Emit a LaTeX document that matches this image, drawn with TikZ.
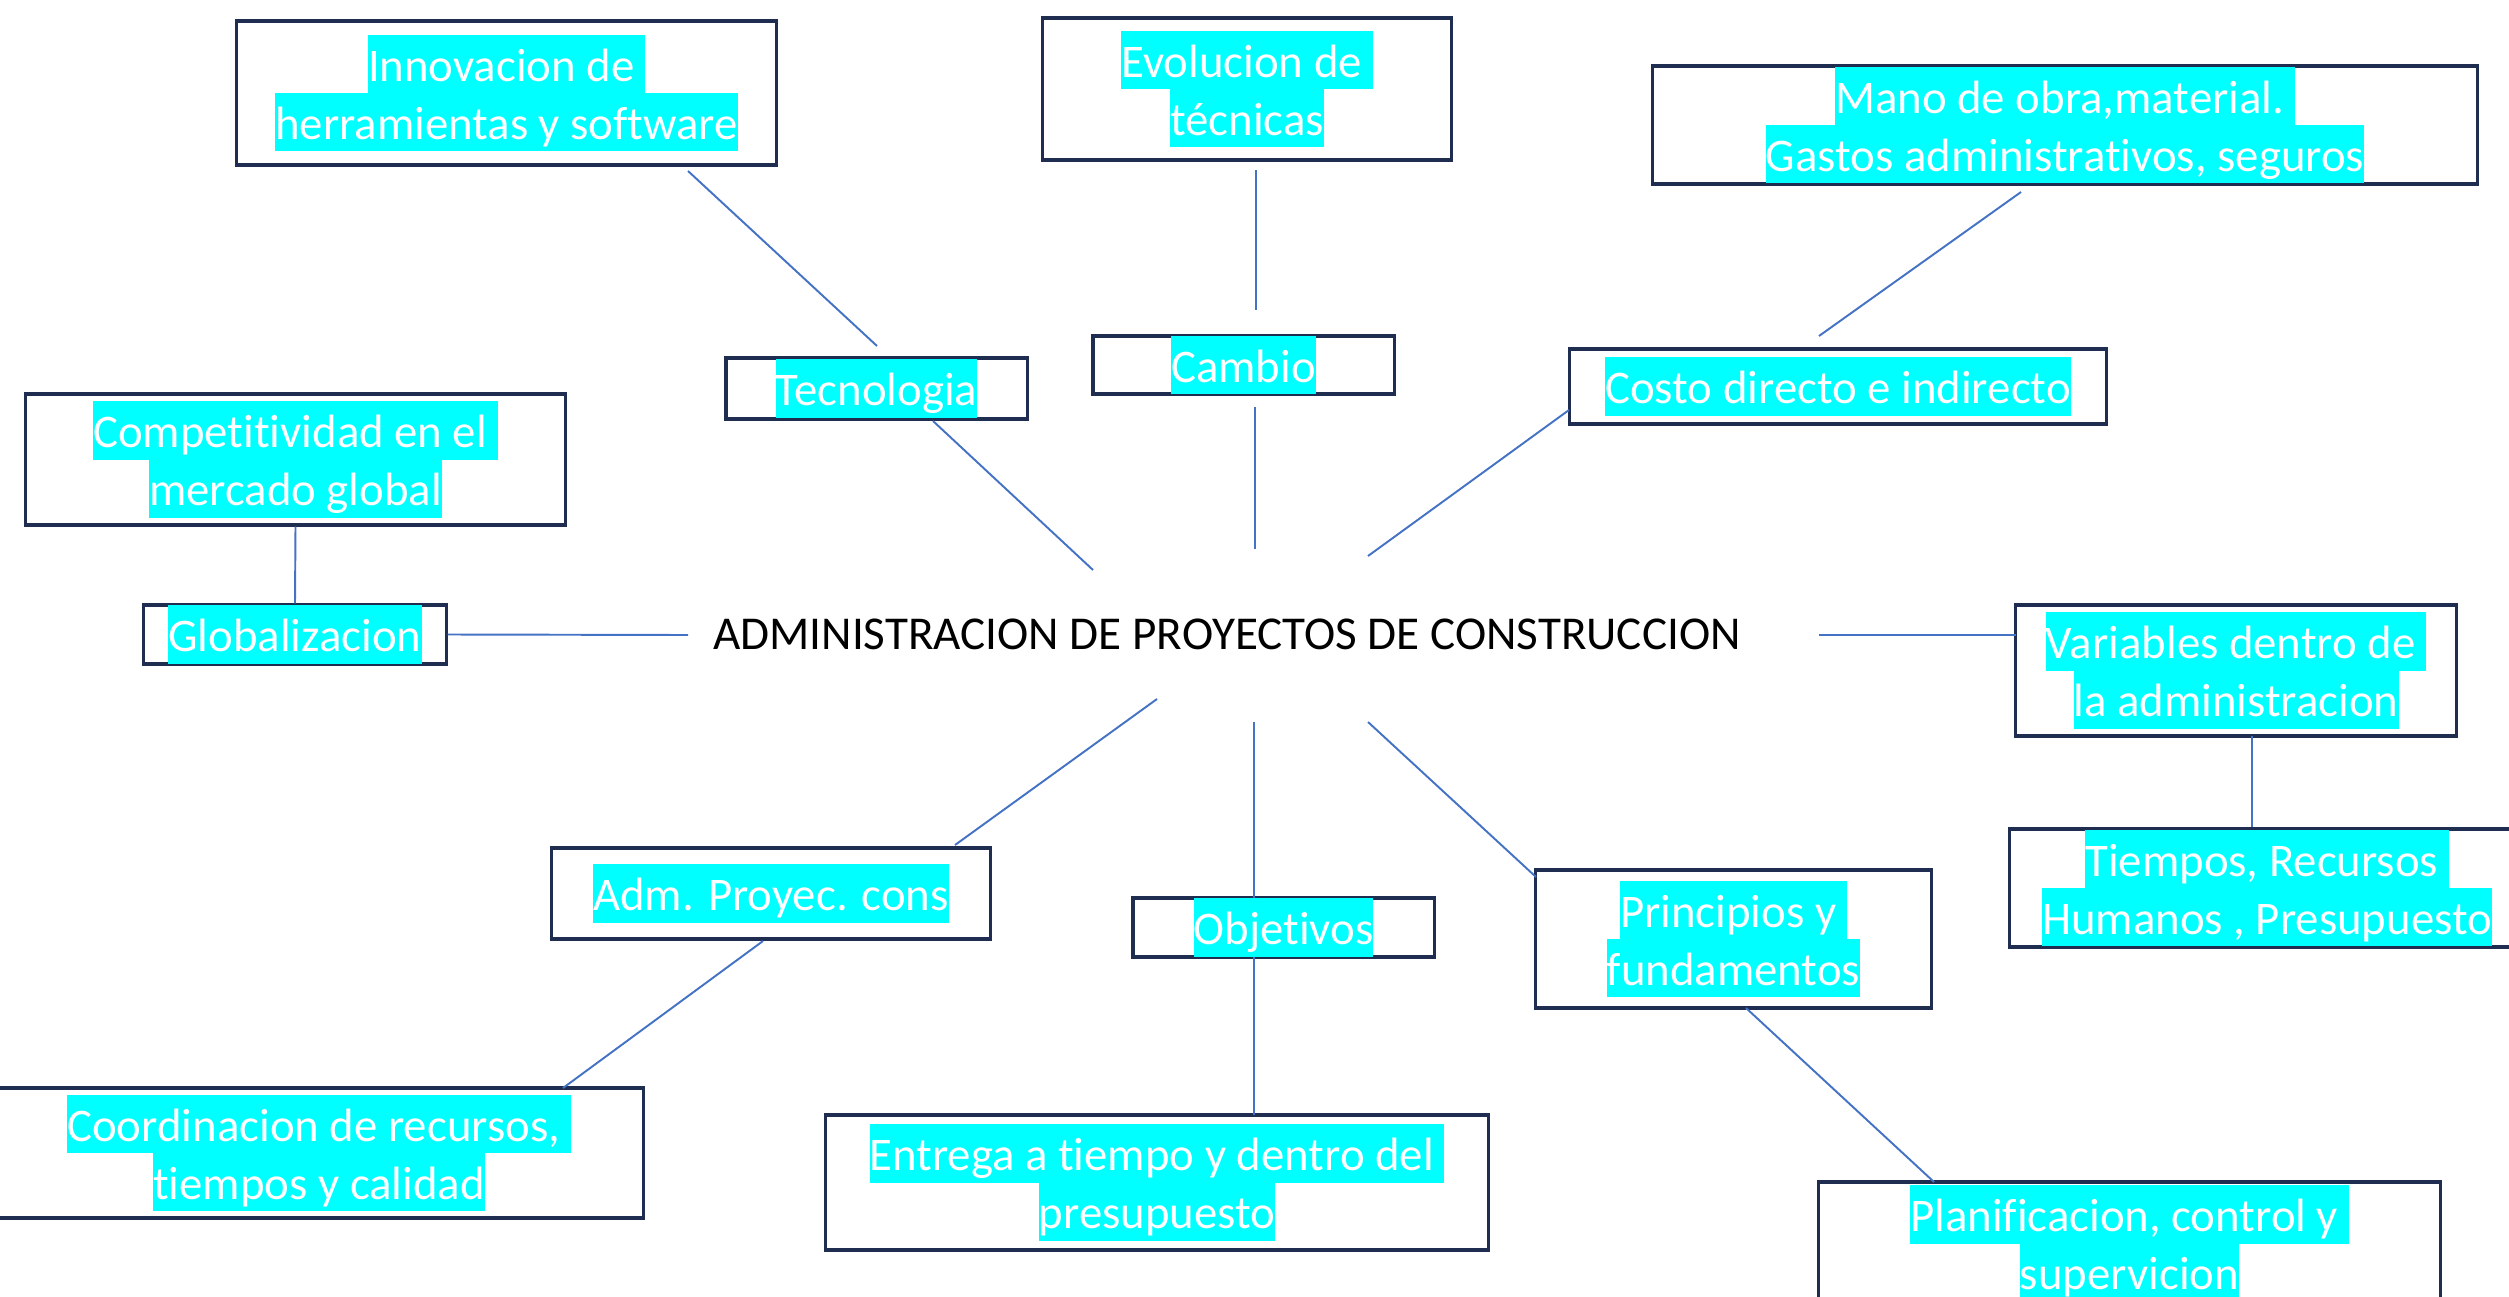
\documentclass[tikz,border=0pt]{standalone}
\usepackage{fontspec}
\setmainfont{Carlito}[Ligatures={NoCommon}]
\usetikzlibrary{calc}
\definecolor{hlcyan}{RGB}{0,255,255}
\definecolor{boxnavy}{RGB}{31,45,80}
\definecolor{linkblue}{RGB}{68,114,196}
\newcommand{\hl}[1]{{\setlength{\fboxsep}{0pt}\colorbox{hlcyan}{\rule[-3.41pt]{0pt}{16.5pt}#1}}}
\setlength{\lineskiplimit}{-2pt}
\begin{document}
\begin{tikzpicture}[x=0.01cm,y=-0.01cm,
  box/.style={draw=boxnavy, line width=0.9pt, inner sep=0pt, align=center,
    text=white, font=\fontsize{13.3pt}{16.5pt}\selectfont},
  link/.style={draw=linkblue, line width=0.55pt},
  title/.style={inner sep=0pt, text=black, font=\fontsize{13.4pt}{16.5pt}\selectfont}]
\useasboundingbox (0,0) rectangle (2509,1297);
\clip (0,0) rectangle (2509,1297);

\node[box, minimum width=5.39cm, minimum height=1.44cm] (innov) at (506.5,93) {\hl{Innovacion de\ }\\\hl{herramientas y software}};
\node[box, minimum width=4.08cm, minimum height=1.42cm] (evol) at (1247,89) {\hl{Evolucion de\ }\\\hl{técnicas}};
\node[box, minimum width=8.24cm, minimum height=1.18cm] (mano) at (2065,125) {\hl{Mano de obra,material.\ }\\\hl{Gastos administrativos, seguros}};
\node[box, minimum width=5.39cm, minimum height=1.31cm] (compet) at (295.5,459.5) {\hl{Competitividad en el\ }\\\hl{mercado global}};
\node[box, minimum width=3.01cm, minimum height=0.61cm] (tec) at (876.5,388.5) {\hl{Tecnologia}};
\node[box, minimum width=3.01cm, minimum height=0.58cm] (cambio) at (1243.5,365) {\hl{Cambio}};
\node[box, minimum width=5.36cm, minimum height=0.75cm] (costo) at (1838,386.5) {\hl{Costo directo e indirecto}};
\node[box, minimum width=3.02cm, minimum height=0.59cm] (glob) at (295,634.5) {\hl{Globalizacion}};
\node[title] (center) at (1227,634) {ADMINISTRACION DE PROYECTOS DE CONSTRUCCION};
\node[box, minimum width=4.40cm, minimum height=1.31cm] (var) at (2236,670.5) {\hl{Variables dentro de\ }\\\hl{la administracion}};
\node[box, minimum width=5.14cm, minimum height=1.18cm] (tiempos) at (2267,888) {\hl{Tiempos, Recursos\ }\\\hl{Humanos , Presupuesto}};
\node[box, minimum width=4.38cm, minimum height=0.91cm] (adm) at (771,893.5) {\hl{Adm. Proyec. cons}};
\node[box, minimum width=3.01cm, minimum height=0.59cm] (obj) at (1283.5,927.5) {\hl{Objetivos}};
\node[box, minimum width=3.95cm, minimum height=1.38cm] (princ) at (1733.5,939) {\hl{Principios y\ }\\\hl{fundamentos}};
\node[box, minimum width=6.48cm, minimum height=1.30cm] (coord) at (319,1153) {\hl{Coordinacion de recursos,\ }\\\hl{tiempos y calidad}};
\node[box, minimum width=6.62cm, minimum height=1.35cm] (entrega) at (1157,1182.5) {\hl{Entrega a tiempo y dentro del\ }\\\hl{presupuesto}};
\node[box, minimum width=6.21cm, minimum height=1.23cm] (plan) at (2129.5,1243.5) {\hl{Planificacion, control y\ }\\\hl{supervicion}};

\draw[link] ($(innov)+(181.5,78)$) -- ($(tec)+(0.5,-42.5)$);
\draw[link] ($(tec)+(56.5,32.5)$) -- ($(center)+(-134,-64)$);
\draw[link] ($(evol)+(9,81)$) -- ($(cambio)+(12.5,-55)$);
\draw[link] ($(cambio)+(11.5,42)$) -- ($(center)+(28,-85)$);
\draw[link] ($(mano)+(-44,67)$) -- ($(costo)+(-19,-50.5)$);
\draw[link] ($(costo)+(-269,23.5)$) -- ($(center)+(141,-78)$);
\draw[link] (compet.south) -- (glob.north);
\draw[link] (glob.east) -- ($(center)+(-539,1)$);
\draw[link] ($(center)+(592,1)$) -- ($(var)+(-220,-35.5)$);
\draw[link] ($(var)+(16,65.5)$) -- ($(tiempos)+(-15,-61)$);
\draw[link] ($(center)+(-70,65)$) -- ($(adm)+(184,-48.5)$);
\draw[link] ($(adm)+(-8,47.5)$) -- ($(coord)+(244,-65)$);
\draw[link] ($(center)+(27,88)$) -- ($(obj)+(-29.5,-29.5)$);
\draw[link] ($(obj)+(-29.5,29.5)$) -- ($(entrega)+(97,-67.5)$);
\draw[link] ($(center)+(141,88)$) -- ($(princ)+(-197.5,-62)$);
\draw[link] ($(princ)+(12.5,69)$) -- ($(plan)+(-195.5,-61.5)$);
\end{tikzpicture}
\end{document}
